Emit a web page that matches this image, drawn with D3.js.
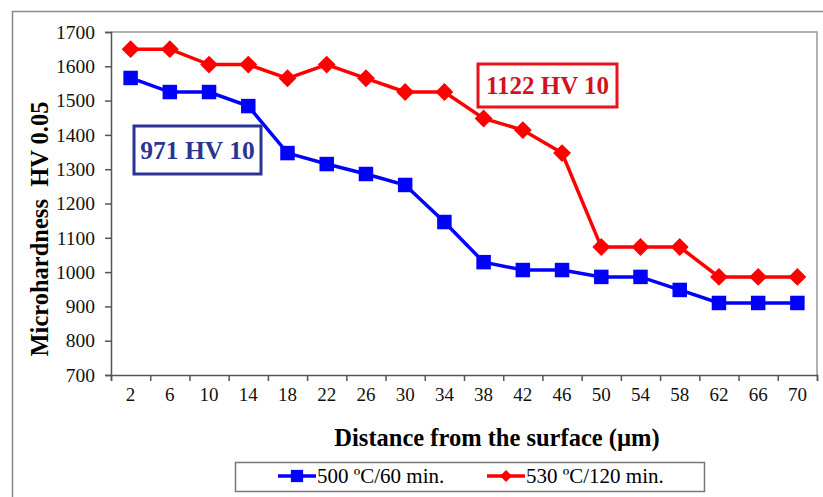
<!DOCTYPE html>
<html lang="en">
<head>
  <meta charset="utf-8">
  <title>Microhardness profile</title>
  <script src="https://d3js.org/d3.v7.min.js"></script>
  <style>
    body { margin: 0; background: #fff; }
    text { font-family: "Liberation Serif", "Times New Roman", serif; }
  </style>
</head>
<body>
<script>
  // data
  var depths = ["2", "6", "10", "14", "18", "22", "26", "30", "34", "38", "42", "46", "50", "54", "58", "62", "66", "70"];
  var hv500 = [1566, 1525, 1525, 1484, 1347, 1315, 1286, 1254, 1146, 1029, 1006, 1006, 986, 986, 948, 910, 910, 910];
  var hv530 = [1650, 1650, 1605, 1605, 1565, 1605, 1565, 1525, 1525, 1448, 1414, 1347, 1073, 1073, 1073, 986, 986, 986];
  var yTicks = [700, 800, 900, 1000, 1100, 1200, 1300, 1400, 1500, 1600, 1700];

  var w = 823, h = 497;
  var plotLeft = 111, plotRight = 817, plotTop = 32, plotBottom = 375;

  var svg = d3.select("body").append("svg")
    .attr("width", w)
    .attr("height", h);

  // outer frame
  svg.append("rect")
    .attr("x", 12.5).attr("y", 11.5)
    .attr("width", 830).attr("height", 500)
    .attr("fill", "none").attr("stroke", "#888").attr("stroke-width", 1.5);

  var x = d3.scaleBand().domain(depths).range([plotLeft, plotRight]);
  var xEdge = d3.scaleLinear().domain([0, depths.length]).range([plotLeft, plotRight]);
  var y = d3.scaleLinear().domain([700, 1700]).range([plotBottom, plotTop]);

  // plot area border (top / right)
  svg.append("path")
    .attr("d", "M" + plotLeft + "," + plotTop + "H" + plotRight + "V" + plotBottom)
    .attr("fill", "none").attr("stroke", "#999").attr("stroke-width", 1.5);

  // y axis
  var yAxis = svg.append("g")
    .attr("transform", "translate(" + plotLeft + ",0)")
    .call(d3.axisLeft(y).tickValues(yTicks).tickSize(6).tickPadding(10).tickFormat(d3.format("d")));
  yAxis.selectAll("text").attr("font-size", 19.5).attr("fill", "#111");

  // x axis: ticks at category edges, labels centred
  svg.append("g")
    .attr("transform", "translate(0," + plotBottom + ")")
    .call(d3.axisBottom(xEdge).tickValues(d3.range(0, depths.length + 1)).tickSize(6).tickFormat(""));
  var xLab = svg.append("g")
    .attr("transform", "translate(0," + plotBottom + ")")
    .call(d3.axisBottom(x).tickSize(0).tickPadding(13));
  xLab.select(".domain").remove();
  xLab.selectAll("text").attr("font-size", 19).attr("fill", "#111");

  svg.selectAll(".domain, .tick line").attr("stroke", "#555").attr("stroke-width", 1.5);

  // axis titles
  svg.append("text")
    .attr("transform", "translate(48,229) rotate(-90)")
    .attr("text-anchor", "middle")
    .attr("font-size", 24.5).attr("font-weight", "bold")
    .attr("xml:space", "preserve")
    .text("Microhardness  HV 0.05");

  svg.append("text")
    .attr("x", 497).attr("y", 446)
    .attr("text-anchor", "middle")
    .attr("font-size", 24.5).attr("font-weight", "bold")
    .text("Distance from the surface (\u00b5m)");

  var cx = function(d, i) { return x(depths[i]) + x.bandwidth() / 2; };
  var line = d3.line()
    .x(function(d, i) { return cx(d, i); })
    .y(function(d) { return y(d); });

  var series = [
    { values: hv500, color: "#0000ff", size: 210, rot: 0 },
    { values: hv530, color: "#ff0000", size: 160, rot: 45 }
  ];

  series.forEach(function(s) {
    svg.append("path")
      .datum(s.values)
      .attr("d", line)
      .attr("fill", "none")
      .attr("stroke", s.color)
      .attr("stroke-width", 3.5);
    svg.selectAll(null)
      .data(s.values)
      .enter()
      .append("path")
      .attr("d", d3.symbol().type(d3.symbolSquare).size(s.size))
      .attr("transform", function(d, i) {
        return "translate(" + cx(d, i) + "," + y(d) + ") rotate(" + s.rot + ")";
      })
      .attr("fill", s.color);
  });

  // annotation boxes
  var notes = [
    { text: "971 HV 10", x0: 134, y0: 126, x1: 261, y1: 174, color: "#2a3593", border: "#2a3593", base: 159, size: 25.5 },
    { text: "1122 HV 10", x0: 478, y0: 64, x1: 617, y1: 107, color: "#d0141e", border: "#e8141c", base: 94, size: 25 }
  ];
  notes.forEach(function(n) {
    svg.append("rect")
      .attr("x", n.x0).attr("y", n.y0)
      .attr("width", n.x1 - n.x0).attr("height", n.y1 - n.y0)
      .attr("fill", "#fff")
      .attr("stroke", n.border)
      .attr("stroke-width", 3);
    svg.append("text")
      .attr("x", (n.x0 + n.x1) / 2).attr("y", n.base)
      .attr("text-anchor", "middle")
      .attr("font-size", n.size).attr("font-weight", "bold")
      .attr("fill", n.color)
      .text(n.text);
  });

  // legend
  svg.append("rect")
    .attr("x", 235.5).attr("y", 462.5)
    .attr("width", 469).attr("height", 29)
    .attr("fill", "#fff").attr("stroke", "#777").attr("stroke-width", 1.5);

  var legendItems = [
    { label: "500 \u00baC/60 min.", x0: 278, color: "#0000ff", size: 150, rot: 0 },
    { label: "530 \u00baC/120 min.", x0: 487, color: "#ff0000", size: 70, rot: 45 }
  ];
  legendItems.forEach(function(l) {
    svg.append("line")
      .attr("x1", l.x0).attr("x2", l.x0 + 38)
      .attr("y1", 476).attr("y2", 476)
      .attr("stroke", l.color).attr("stroke-width", 3.5);
    svg.append("path")
      .attr("d", d3.symbol().type(d3.symbolSquare).size(l.size))
      .attr("transform", "translate(" + (l.x0 + 19) + ",476) rotate(" + l.rot + ")")
      .attr("fill", l.color);
    svg.append("text")
      .attr("x", l.x0 + 39).attr("y", 483)
      .attr("font-size", 21)
      .text(l.label);
  });
</script>
</body>
</html>
